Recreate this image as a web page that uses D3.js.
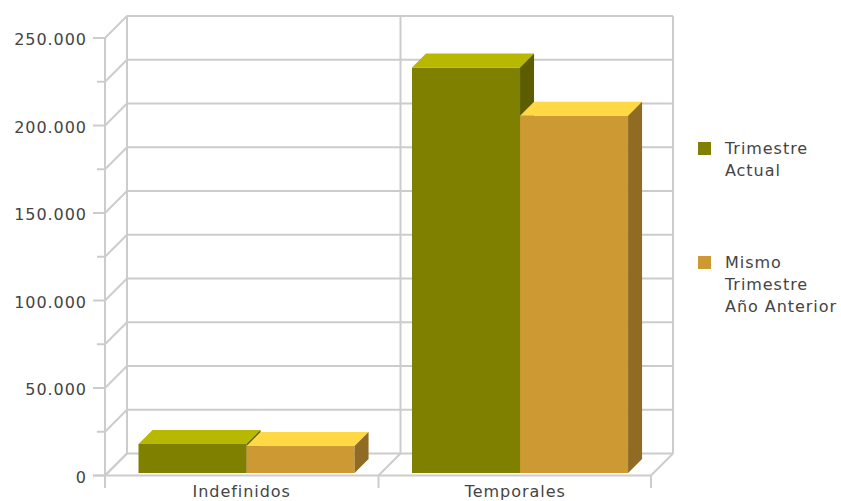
<!DOCTYPE html>
<html><head><meta charset="utf-8">
<style>html,body{margin:0;padding:0;background:#fff;overflow:hidden}svg{display:block}
text{font-family:"DejaVu Sans",sans-serif;fill:#444;font-size:16px;letter-spacing:.95px}</style>
<script src="https://cdn.jsdelivr.net/npm/d3@7/dist/d3.min.js"></script></head><body>
<script>
const categories = ["Indefinidos", "Temporales"];
const seriesNames = [["Trimestre", "Actual"], ["Mismo", "Trimestre", "Año Anterior"]];
const actual = [16600, 231700];
const previous = [15400, 204200];
const gridValues = d3.range(0, 250001, 25000);
const tickValues = [0, 50000, 100000, 150000, 200000, 250000];
const tickLabels = ["0", "50.000", "100.000", "150.000", "200.000", "250.000"];
const colors = ["#808000", "#CC9933"], tops = ["#B8B800", "#FFD945"], sides = ["#5C5C00", "#8F6B24"];

const W = 841, H = 501, depth = 22, bd = 14, GRID = "#ccc";
const svg = d3.select("body").append("svg").attr("width", W).attr("height", H);
const x = d3.scaleBand().domain(categories).range([105, 652]);
const y = d3.scaleLinear().domain([0, 250000]).range([475.5, 38]);
const inner = d3.scaleBand().domain([0, 1]).range([0, x.bandwidth() * 0.79]);
const line = (x1, y1, x2, y2) => svg.append("line").attr("x1", x1).attr("y1", y1).attr("x2", x2).attr("y2", y2)
  .attr("stroke", GRID).attr("stroke-width", 2);

// back-wall gridlines, wall diagonals, front ticks
gridValues.forEach(v => {
  const Y = y(v);
  line(127, Y - depth, 673, Y - depth);
  line(105, Y, 127, Y - depth);
  line(tickValues.includes(v) ? 93 : 97, Y, 105, Y);
});
line(105, y(0), 105, y(250000));
line(93, y(0), 651, y(0));
[...categories.map(c => x(c)), 651].forEach((X, i) => {
  line(X, y(0), X, 488);
  line(X, y(0), X + depth, y(0) - depth);
  line(X + depth, y(0) - depth, X + depth, y(250000) - depth);
});

// bars
const sx = 33.5, sy = -2.5;
[actual, previous].forEach((vals, s) => {
  categories.forEach((c, i) => {
    const x0 = x(c) + sx + inner(s), x1 = x0 + inner.bandwidth(), yt = y(vals[i]) + sy, yb = y(0) + sy;
    svg.append("rect").attr("x", x0).attr("y", yt).attr("width", x1 - x0).attr("height", yb - yt).attr("fill", colors[s]);
    svg.append("path").attr("d", d3.line()([[x0, yt], [x0 + bd, yt - bd], [x1 + bd, yt - bd], [x1, yt]])).attr("fill", tops[s]);
    svg.append("path").attr("d", d3.line()([[x1, yt], [x1 + bd, yt - bd], [x1 + bd, yb - bd], [x1, yb]])).attr("fill", sides[s]);
  });
});

// labels
tickValues.forEach((v, i) => svg.append("text").attr("x", 87).attr("y", y(v) + 7).attr("text-anchor", "end").text(tickLabels[i]));
categories.forEach(c => svg.append("text").attr("x", x(c) + x.bandwidth() / 2).attr("y", 497).attr("text-anchor", "middle").text(c));

// legend
[142, 256].forEach((ly, s) => {
  svg.append("rect").attr("x", 698).attr("y", ly).attr("width", 13).attr("height", 13).attr("fill", colors[s]);
  seriesNames[s].forEach((t, j) => svg.append("text").attr("x", 725).attr("y", ly + 12 + j * 22).text(t));
});
</script></body></html>
